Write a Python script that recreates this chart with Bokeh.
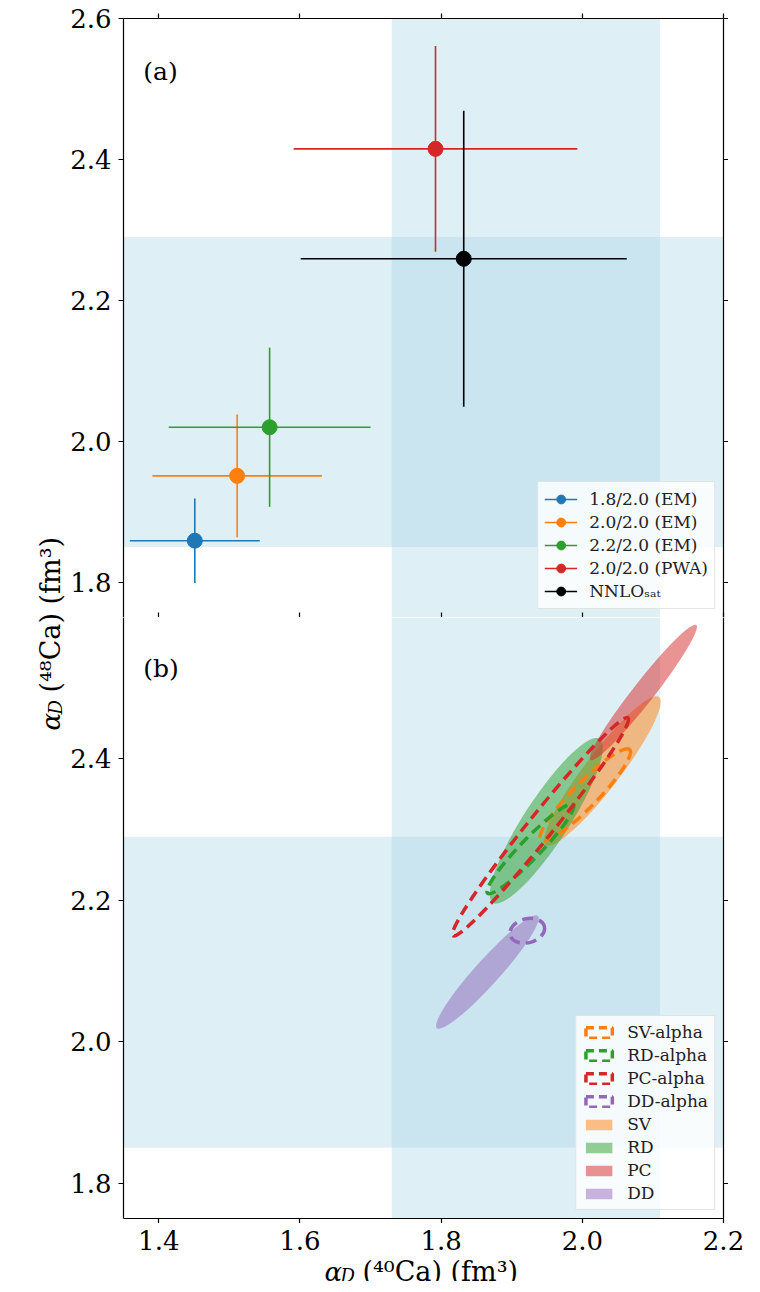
import numpy as np
import pandas as pd
from bokeh.plotting import figure
from bokeh.models import (Range1d, LinearAxis, BoxAnnotation, Legend, LegendItem,
                          Label, ColumnDataSource, FixedTicker, PrintfTickFormatter,
                          CustomJSTickFormatter)
from bokeh.layouts import row, column
from bokeh.embed import file_html
from bokeh.resources import INLINE
from bokeh.core.properties import value

# ---------------- data ----------------
x_lim = [1.35, 2.2]
y_lim = [1.75, 2.6]
x_ticks = [1.4, 1.6, 1.8, 2.0, 2.2]
y_ticks_a = [1.8, 2.0, 2.2, 2.4, 2.6]
y_ticks_b = [1.8, 2.0, 2.2, 2.4]
band_x = [1.73, 2.11]
band_y = [1.85, 2.29]

# panel (a): points with error bars
labels_a = ["1.8/2.0 (EM)", "2.0/2.0 (EM)", "2.2/2.0 (EM)", "2.0/2.0 (PWA)", "NNLOₛₐₜ"]
x_a = [1.451, 1.511, 1.557, 1.792, 1.832]
xerr_a = [0.092, 0.120, 0.143, 0.201, 0.231]
y_a = [1.859, 1.951, 2.020, 2.415, 2.259]
yerr_a = [0.060, 0.087, 0.113, 0.146, 0.210]
colors_a = ["#1f77b4", "#ff7f0e", "#2ca02c", "#d62728", "#000000"]

# panel (b): ellipses (center, full axes, angle in degrees)
ell_names = ["SV", "RD", "PC", "DD"]
ell_colors = ["#ff7f0e", "#2ca02c", "#d62728", "#9467bd"]
fill_x = [2.0285, 1.949, 2.0866, 1.8656]
fill_y = [2.383, 2.3125, 2.494, 2.0986]
fill_major = [0.264, 0.277, 0.243, 0.214]
fill_minor = [0.050, 0.063, 0.030, 0.035]
fill_angle = [52.6, 56.9, 51.9, 48.0]
alpha_x = [2.004, 1.9265, 1.9407, 1.922]
alpha_y = [2.349, 2.273, 2.304, 2.157]
alpha_major = [0.180, 0.175, 0.396, 0.050]
alpha_minor = [0.035, 0.028, 0.035, 0.034]
alpha_angle = [45.6, 46.0, 51.2, 15.0]

FONT = "DejaVu Serif"
BAND_COLOR = "#add8e6"
PX = (x_lim[1] - x_lim[0]) / 600.0   # data units per pixel along x

# ---------------- helpers ----------------
def style_axis(ax, ticks, show_labels, tick_out=5, tick_in=0):
    ax.ticker = FixedTicker(ticks=ticks)
    ax.axis_line_color = "black"
    ax.axis_line_width = 1.2
    ax.major_tick_line_color = "black"
    ax.major_tick_line_width = 1.2
    ax.major_tick_out = tick_out
    ax.major_tick_in = tick_in
    ax.minor_tick_line_color = None
    if show_labels:
        ax.formatter = PrintfTickFormatter(format="%.1f")
        ax.major_label_text_font = FONT
        ax.major_label_text_font_size = "26px"
        ax.major_label_text_color = "black"
        ax.major_label_standoff = 7
    else:
        ax.formatter = CustomJSTickFormatter(code="return ''")
        ax.major_label_standoff = 0


def kill_grid(p):
    for g in p.grid:
        g.visible = False


def make_fig(h_frame, top_border, bottom_border):
    p = figure(frame_width=600, frame_height=h_frame,
               x_range=Range1d(*x_lim), y_range=Range1d(*y_lim),
               output_backend="svg", toolbar_location=None,
               x_axis_location=None, y_axis_location=None,
               min_border_left=57, min_border_right=0,
               min_border_top=top_border, min_border_bottom=bottom_border)
    kill_grid(p)
    p.outline_line_color = None
    p.background_fill_color = "white"
    p.border_fill_color = "white"
    for b in ({"left": band_x[0], "right": band_x[1]},
              {"bottom": band_y[0], "top": band_y[1]}):
        p.add_layout(BoxAnnotation(**b, fill_color=BAND_COLOR, fill_alpha=0.4,
                                   line_color=None, level="underlay"))
    return p


def style_legend(lg, glyph_h, label_h, spacing, padding):
    lg.location = "bottom_right"
    lg.margin = 8
    lg.padding = padding
    lg.spacing = spacing
    lg.label_text_font = FONT
    lg.label_text_font_size = "17px"
    lg.label_text_color = "#222222"
    lg.label_height = label_h
    lg.glyph_height = glyph_h
    lg.glyph_width = 33
    lg.label_standoff = 12
    lg.border_line_color = "#cccccc"
    lg.border_line_width = 1
    lg.background_fill_color = "white"
    lg.background_fill_alpha = 0.8


# ---------------- panel (a) ----------------
p1 = make_fig(599, 18, 0)
ax = LinearAxis(); style_axis(ax, y_ticks_a, True); p1.add_layout(ax, "left")
ax = LinearAxis(); style_axis(ax, y_ticks_a, False); p1.add_layout(ax, "right")
ax = LinearAxis(); style_axis(ax, x_ticks, False); p1.add_layout(ax, "above")
ax = LinearAxis(); style_axis(ax, x_ticks, False, tick_out=0, tick_in=5); p1.add_layout(ax, "below")

df_a = pd.DataFrame({"label": labels_a, "x": x_a, "xerr": xerr_a, "y": y_a,
                     "yerr": yerr_a, "color": colors_a})
items_a = []
for _, r in df_a.iterrows():
    src = ColumnDataSource(dict(x=[r.x], y=[r.y], x0=[r.x - r.xerr], x1=[r.x + r.xerr],
                                y0=[r.y - r.yerr], y1=[r.y + r.yerr]))
    hs = p1.segment(x0="x0", y0="y", x1="x1", y1="y", source=src, line_color=r.color, line_width=1.6)
    vs = p1.segment(x0="x", y0="y0", x1="x", y1="y1", source=src, line_color=r.color, line_width=1.6)
    sc = p1.scatter(x="x", y="y", source=src, size=15, fill_color=r.color, line_color=r.color)
    items_a.append(LegendItem(label=r.label, renderers=[hs, sc]))
lg1 = Legend(items=items_a)
style_legend(lg1, glyph_h=22, label_h=18, spacing=1, padding=6)
p1.add_layout(lg1)
p1.add_layout(Label(x=1.378, y=2.525, text="(a)", text_font=FONT, text_font_size="25px",
                    text_baseline="middle", text_color="black"))

# ---------------- panel (b) ----------------
p2 = make_fig(601, 0, 0)
ax = LinearAxis(); style_axis(ax, y_ticks_b, True); p2.add_layout(ax, "left")
ax = LinearAxis(); style_axis(ax, y_ticks_b, False); p2.add_layout(ax, "right")
ax = LinearAxis(); style_axis(ax, x_ticks, False); p2.add_layout(ax, "below")

df_f = pd.DataFrame({"name": ell_names, "color": ell_colors, "x": fill_x, "y": fill_y,
                     "w": fill_major, "h": fill_minor, "ang": np.radians(fill_angle)})
df_d = pd.DataFrame({"name": [n + "-alpha" for n in ell_names], "color": ell_colors,
                     "x": alpha_x, "y": alpha_y, "w": alpha_major, "h": alpha_minor,
                     "ang": np.radians(alpha_angle)})
for _, r in df_f.iterrows():
    p2.ellipse(x=[r.x], y=[r.y], width=[r.w], height=[r.h], angle=[r.ang],
               fill_color=r.color, fill_alpha=0.5, line_color=None)
for _, r in df_d.iterrows():
    p2.ellipse(x=[r.x], y=[r.y], width=[r.w], height=[r.h], angle=[r.ang],
               fill_color=None, line_color=r.color, line_width=3.5, line_dash="11 6")

# legend-only swatches (rectangles, like matplotlib patch handles); NaN -> nothing drawn
def proxy_src():
    return ColumnDataSource(dict(left=[np.nan], right=[np.nan], top=[np.nan], bottom=[np.nan]))

items_b = []
for _, r in df_d.iterrows():
    q = p2.quad(left="left", right="right", top="top", bottom="bottom", source=proxy_src(),
                fill_color=None, line_color=r.color, line_width=3.5, line_dash="8 5")
    items_b.append(LegendItem(label=r["name"], renderers=[q]))
for _, r in df_f.iterrows():
    q = p2.quad(left="left", right="right", top="top", bottom="bottom", source=proxy_src(),
                fill_color=r.color, fill_alpha=0.5, line_color=None)
    items_b.append(LegendItem(label=r["name"], renderers=[q]))
lg2 = Legend(items=items_b)
style_legend(lg2, glyph_h=13, label_h=17, spacing=3, padding=6)
p2.add_layout(lg2)
p2.add_layout(Label(x=1.378, y=2.528, text="(b)", text_font=FONT, text_font_size="25px",
                    text_baseline="middle", text_color="black"))

# ---------------- x tick labels + x-axis label strip ----------------
H_TOTAL = 1290
XL_H = 58
xl = figure(frame_width=625, frame_height=XL_H,
            x_range=Range1d(x_lim[0], x_lim[1] + 25 * PX), y_range=Range1d(0, XL_H),
            output_backend="svg", toolbar_location=None,
            x_axis_location=None, y_axis_location=None,
            min_border_left=57, min_border_right=0, min_border_top=0, min_border_bottom=0)
kill_grid(xl)
xl.outline_line_color = None
xl.background_fill_color = "white"
xl.border_fill_color = "white"
xl.text(x=x_ticks, y=[XL_H - 7] * len(x_ticks), text=[f"{t:.1f}" for t in x_ticks],
        text_font=value(FONT), text_font_size=value("26px"), text_align=value("center"),
        text_baseline=value("top"), text_color="black")
xl_x0 = x_lim[0] + 201 * PX
XB = 10   # baseline of the axis title inside the strip
xl.text(x=[xl_x0], y=[XB], text=["α"], text_font=value(FONT), text_font_style=value("italic"),
        text_font_size=value("26px"), text_baseline=value("alphabetic"), text_color="black")
xl.text(x=[xl_x0 + 16 * PX], y=[XB - 4], text=["D"], text_font=value(FONT),
        text_font_style=value("italic"), text_font_size=value("18px"),
        text_baseline=value("alphabetic"), text_color="black")
xl.text(x=[xl_x0 + 38 * PX], y=[XB], text=["(⁴⁰Ca) (fm³)"], text_font=value(FONT),
        text_font_size=value("27px"), text_baseline=value("alphabetic"), text_color="black")

# ---------------- y-axis label figure ----------------
YL_W = 66
yl = figure(frame_width=YL_W, frame_height=H_TOTAL - 10, x_range=Range1d(0, YL_W),
            y_range=Range1d(10, H_TOTAL), output_backend="svg", toolbar_location=None,
            x_axis_location=None, y_axis_location=None,
            min_border_left=0, min_border_right=0, min_border_top=0, min_border_bottom=0)
kill_grid(yl)
yl.outline_line_color = None
yl.background_fill_color = "white"
yl.border_fill_color = "white"
y0 = H_TOTAL - 730
yl.text(x=[50], y=[y0], text=["α"], angle=np.pi / 2, text_font=value(FONT),
        text_font_style=value("italic"), text_font_size=value("26px"),
        text_baseline=value("alphabetic"), text_color="black")
yl.text(x=[55], y=[y0 + 16], text=["D"], angle=np.pi / 2, text_font=value(FONT),
        text_font_style=value("italic"), text_font_size=value("18px"),
        text_baseline=value("alphabetic"), text_color="black")
yl.text(x=[50], y=[y0 + 38], text=["(⁴⁸Ca) (fm³)"], angle=np.pi / 2, text_font=value(FONT),
        text_font_size=value("27px"), text_baseline=value("alphabetic"), text_color="black")

layout = row(yl, column(p1, p2, xl, spacing=0), spacing=0)
open("out.html", "w").write(file_html(layout, INLINE))
